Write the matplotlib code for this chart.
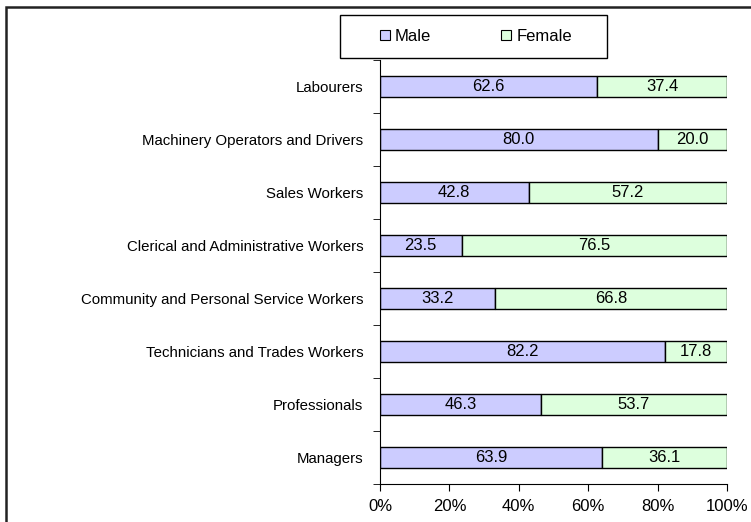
import matplotlib.pyplot as plt
from matplotlib.patches import Rectangle
from matplotlib.ticker import FixedLocator, PercentFormatter

plt.rcParams['font.family'] = ['Liberation Sans', 'DejaVu Sans']

categories = ["Managers", "Professionals", "Technicians and Trades Workers",
              "Community and Personal Service Workers",
              "Clerical and Administrative Workers", "Sales Workers",
              "Machinery Operators and Drivers", "Labourers"]
male = [63.9, 46.3, 82.2, 33.2, 23.5, 42.8, 80.0, 62.6]
female = [36.1, 53.7, 17.8, 66.8, 76.5, 57.2, 20.0, 37.4]

male_color = "#CCCCFF"
female_color = "#DDFFDD"

W, H = 751, 522
fig = plt.figure(figsize=(W / 100, H / 100), dpi=100)
ax = fig.add_axes([380 / W, 1 - 484 / H, 347 / W, 424 / H])

# frame round the chart (cut off at right and bottom like the original)
fig.patches.append(Rectangle((6 / W, -0.1), 1.2, 1 - 7 / H + 0.1,
                             transform=fig.transFigure, fill=False,
                             edgecolor="#222222", linewidth=1.8))

y = range(len(categories))
b1 = ax.barh(y, male, height=0.4, color=male_color, edgecolor="black",
             linewidth=1, label="Male")
b2 = ax.barh(y, female, left=male, height=0.4, color=female_color,
             edgecolor="black", linewidth=1, label="Female")
ax.bar_label(b1, labels=[f"{v:.1f}" for v in male], label_type="center", fontsize=12)
ax.bar_label(b2, labels=[f"{v:.1f}" for v in female], label_type="center", fontsize=12)

ax.set_xlim(0, 100)
ax.set_ylim(-0.5, len(categories) - 0.5)
ax.xaxis.set_major_formatter(PercentFormatter(decimals=0))
ax.set_xticks(range(0, 101, 20))
ax.set_yticks(list(y))
ax.set_yticklabels(categories)
ax.tick_params(axis="y", length=0, pad=12, labelsize=10.8)
ax.yaxis.set_minor_locator(FixedLocator([i - 0.5 for i in range(len(categories) + 1)]))
ax.tick_params(axis="y", which="minor", length=5, direction="out")
ax.tick_params(axis="x", length=5, labelsize=12, pad=6)
for s in ("top", "right"):
    ax.spines[s].set_visible(False)

# legend box drawn separately so its padding matches the original
fig.patches.append(Rectangle((340 / W, 1 - 58 / H), 267 / W, 43 / H,
                             transform=fig.transFigure, facecolor="white",
                             edgecolor="black", linewidth=1, zorder=5))
leg = fig.legend(handles=[b1, b2], ncol=2, loc="center",
                 bbox_to_anchor=(476 / W, 1 - 36.5 / H), fontsize=12,
                 frameon=False, handlelength=0.6, handleheight=0.6,
                 handletextpad=0.3, columnspacing=4.2, borderpad=0,
                 borderaxespad=0)
leg.set_zorder(6)
for h in leg.legend_handles:
    h.set_linewidth(0.8)

fig.savefig("out.png", dpi=100)
